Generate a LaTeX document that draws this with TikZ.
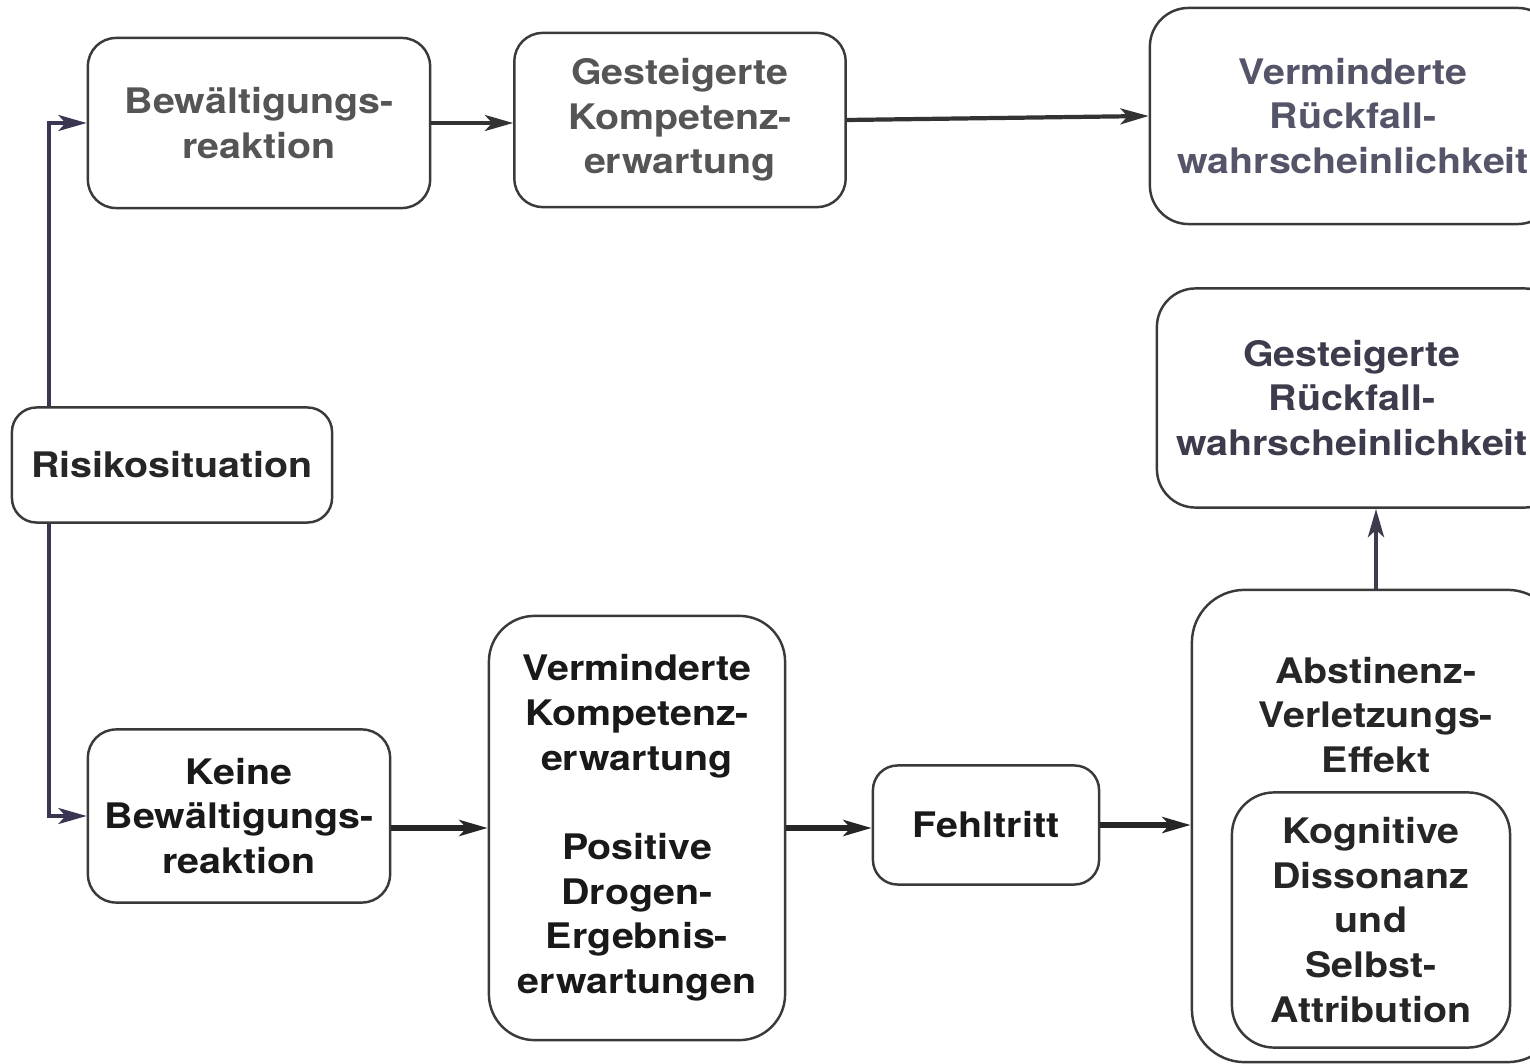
\documentclass[tikz,border=0pt]{standalone}
\usepackage{fontspec}
\setmainfont{TeX Gyre Heros}[FakeStretch=1.12]
\usetikzlibrary{arrows.meta}
\definecolor{txtgray}{HTML}{555555}
\definecolor{txtblue}{HTML}{55556A}
\definecolor{txtdark}{HTML}{3C3C4C}
\definecolor{linecol}{HTML}{3A3A3A}
\definecolor{arrcol}{HTML}{333333}
\definecolor{leftcol}{HTML}{3A3550}
\begin{document}
\begin{tikzpicture}[x=0.01cm,y=-0.01cm,
  box/.style={draw=linecol, line width=0.7pt, inner sep=0pt, align=center,
    font=\bfseries\fontsize{10}{12.7}\selectfont},
  lbl/.style={inner sep=0pt, align=center, font=\bfseries\fontsize{10}{12.7}\selectfont},
  arr/.style={draw=arrcol, line width=1.2pt, -{Stealth[length=8pt,width=4.5pt,inset=2pt]}},
  arrb/.style={arr, line width=1.6pt, draw=black!85}
]
\useasboundingbox (0,0) rectangle (1530,1064);
\fill[white] (0,0) rectangle (1530,1064);
\clip (0,0) rectangle (1530,1064);

% top row
\node[box, rounded corners=8pt, minimum width=3.42cm, minimum height=1.70cm, text=txtgray]
  (bew) at (259,123) {Bewältigungs-\\reaktion};
\node[box, rounded corners=8pt, minimum width=3.31cm, minimum height=1.74cm, text=txtgray]
  (gk) at (680,120) {Gesteigerte\\Kompetenz-\\erwartung};
\node[box, rounded corners=11pt, minimum width=4.06cm, minimum height=2.16cm, text=txtblue]
  (vr) at (1353,116) {Verminderte\\Rückfall-\\wahrscheinlichkeit};

% right middle
\node[box, rounded corners=11pt, minimum width=4.06cm, minimum height=2.19cm]
  (grw) at (1360,398) {};
\node[lbl, text=txtdark] (grwt) at (1352,398) {Gesteigerte\\Rückfall-\\wahrscheinlichkeit};

% left
\node[box, rounded corners=7pt, minimum width=3.20cm, minimum height=1.15cm, text=black!85]
  (risk) at (172,465) {Risikosituation};

% bottom row
\node[box, rounded corners=8pt, minimum width=3.02cm, minimum height=1.73cm, text=black!90]
  (keine) at (239,816) {Keine\\Bewältigungs-\\reaktion};
\node[box, rounded corners=13pt, minimum width=2.96cm, minimum height=4.24cm, text=black!90]
  (mid) at (637,828) {Verminderte\\Kompetenz-\\erwartung\\[12.7pt]Positive\\Drogen-\\Ergebnis-\\erwartungen};
\node[box, rounded corners=7pt, minimum width=2.26cm, minimum height=1.19cm, text=black!90]
  (ft) at (986,825) {Fehltritt};
\node[box, rounded corners=15pt, minimum width=3.68cm, minimum height=4.72cm]
  (ave) at (1376,826) {};
\node[lbl, text=black!85] (avet) at (1376,715) {Abstinenz-\\Verletzungs-\\Effekt};
\node[box, rounded corners=12pt, minimum width=2.78cm, minimum height=2.55cm, text=black!85]
  (kog) at (1371,920) {Kognitive\\Dissonanz\\und\\Selbst-\\Attribution};

% connectors
\draw[arr, draw=leftcol] ([xshift=0.38cm]risk.north west) |- (bew.west);
\draw[arr, draw=leftcol] ([xshift=0.38cm]risk.south west) |- (keine.west);
\draw[arr] (bew.east) -- (bew.east -| gk.west);
\draw[arr] (gk.east) -- (vr.west);
\draw[arrb] (mid.west -| keine.east) -- (mid.west);
\draw[arrb] (mid.east) -- (mid.east -| ft.west);
\draw[arrb] (ft.east) -- (ft.east -| ave.west);
\draw[arr, draw=txtdark, line width=1.4pt] (ave.north) -- (ave.north |- grw.south);
\end{tikzpicture}
\end{document}
